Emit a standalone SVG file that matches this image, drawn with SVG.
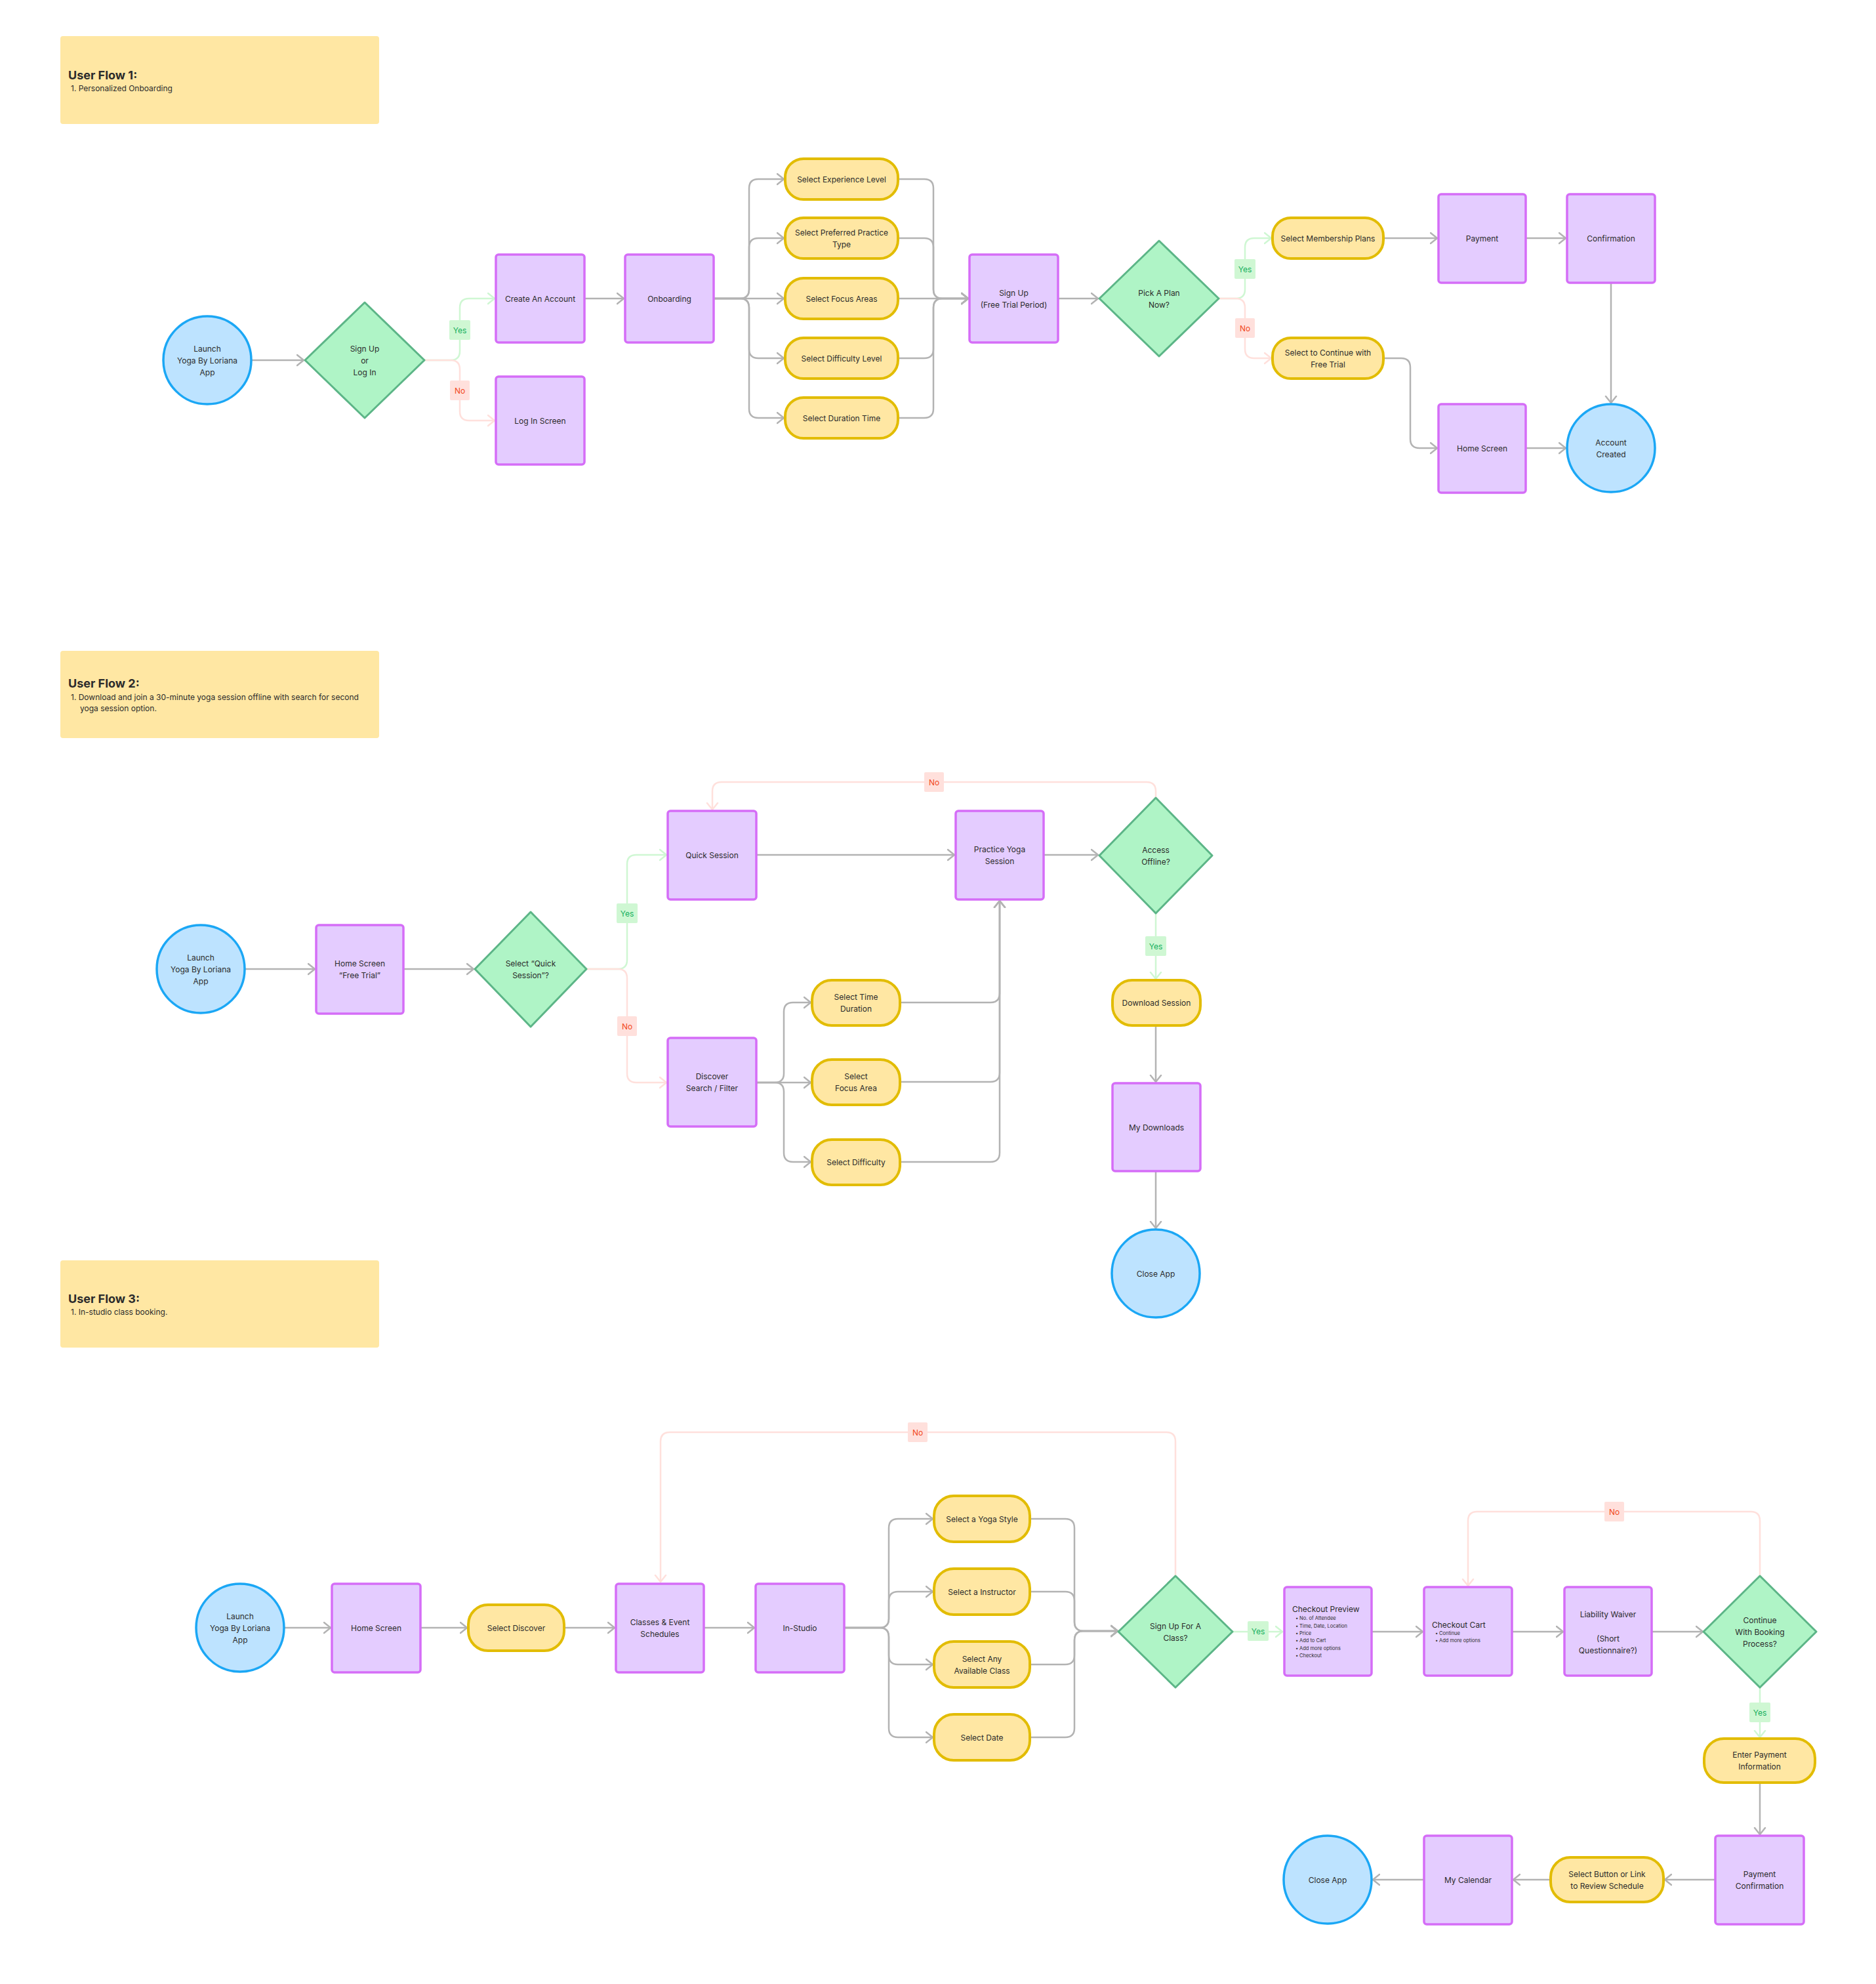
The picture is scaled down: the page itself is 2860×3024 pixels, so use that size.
<svg xmlns="http://www.w3.org/2000/svg" width="2860" height="3024" viewBox="0 0 2860 3024">
<defs>
<style>
.bg{fill:#ffffff}
.hdr{fill:#FFE7A3}
.ht{font-family:Inter,"Liberation Sans",sans-serif;font-size:18px;font-weight:700;fill:#2b2b2b}
.hs{font-family:Inter,"Liberation Sans",sans-serif;font-size:12px;fill:#2b2b2b}
.box{fill:#E4CCFF;stroke:#D56DF7;stroke-width:3.5}
.pill{fill:#FFE7A3;stroke:#E2BC00;stroke-width:4}
.dia{fill:#AFF4C6;stroke:#5CB587;stroke-width:3;stroke-linejoin:round}
.term{fill:#BDE3FF;stroke:#1BA7F5;stroke-width:3.5}
.t{font-family:Inter,"Liberation Sans",sans-serif;font-size:12px;fill:#2b2b2b;text-anchor:middle;dominant-baseline:central}
.tl{font-family:Inter,"Liberation Sans",sans-serif;font-size:12px;fill:#2b2b2b}
.tb{font-family:Inter,"Liberation Sans",sans-serif;font-size:7.5px;fill:#2b2b2b}
.c{fill:none;stroke:#B3B3B3;stroke-width:2.5;marker-end:url(#ag)}
.cy{fill:none;stroke:#CFF7D3;stroke-width:2.5;marker-end:url(#ay)}
.cn{fill:none;stroke:#FFE0DC;stroke-width:2.5;marker-end:url(#an)}
.ly{fill:#CFF7D3}
.ln{fill:#FFE0DC}
.lyt{font-family:Inter,"Liberation Sans",sans-serif;font-size:12px;fill:#14AE5C;text-anchor:middle;dominant-baseline:central}
.lnt{font-family:Inter,"Liberation Sans",sans-serif;font-size:12px;fill:#F24822;text-anchor:middle;dominant-baseline:central}
</style>
<marker id="ag" markerUnits="userSpaceOnUse" markerWidth="14" markerHeight="20" refX="11" refY="10" orient="auto"><path d="M1,2 L11,10 L1,18" fill="none" stroke="#B3B3B3" stroke-width="2.5" stroke-linecap="round" stroke-linejoin="round"/></marker>
<marker id="ay" markerUnits="userSpaceOnUse" markerWidth="14" markerHeight="20" refX="11" refY="10" orient="auto"><path d="M1,2 L11,10 L1,18" fill="none" stroke="#CFF7D3" stroke-width="2.5" stroke-linecap="round" stroke-linejoin="round"/></marker>
<marker id="an" markerUnits="userSpaceOnUse" markerWidth="14" markerHeight="20" refX="11" refY="10" orient="auto"><path d="M1,2 L11,10 L1,18" fill="none" stroke="#FFE0DC" stroke-width="2.5" stroke-linecap="round" stroke-linejoin="round"/></marker>
</defs>
<rect class="bg" x="0" y="0" width="2860" height="3024"/>

<!-- Headers -->
<g id="header1">
<rect class="hdr" x="92" y="55" width="486" height="134" rx="4"/>
<text class="ht" x="104" y="121">User Flow 1:</text>
<text class="hs" x="108" y="139">1. Personalized Onboarding</text>
</g>
<g id="header2">
<rect class="hdr" x="92" y="992" width="486" height="133" rx="4"/>
<text class="ht" x="104" y="1048">User Flow 2:</text>
<text class="hs" x="108" y="1067">1. Download and join a 30-minute yoga session offline with search for second</text>
<text class="hs" x="122" y="1084">yoga session option.</text>
</g>
<g id="header3">
<rect class="hdr" x="92" y="1921" width="486" height="133" rx="4"/>
<text class="ht" x="104" y="1986">User Flow 3:</text>
<text class="hs" x="108" y="2004">1. In-studio class booking.</text>
</g>

<!-- Connectors -->
<g id="connectors">
<!-- Flow 1 -->
<path class="c" d="M384,549 H463"/>
<path class="cy" d="M646,549 H687 Q701,549 701,535 V469 Q701,455 715,455 H754"/>
<path class="cn" d="M646,549 H687 Q701,549 701,563 V627 Q701,641 715,641 H754"/>
<path class="c" d="M891,455 H951"/>
<path class="c" d="M1088,455 H1128 Q1142,455 1142,441 V287 Q1142,273 1156,273 H1195"/>
<path class="c" d="M1088,455 H1128 Q1142,455 1142,441 V377 Q1142,363 1156,363 H1195"/>
<path class="c" d="M1088,455 H1195"/>
<path class="c" d="M1088,455 H1128 Q1142,455 1142,469 V532 Q1142,546 1156,546 H1195"/>
<path class="c" d="M1088,455 H1128 Q1142,455 1142,469 V623 Q1142,637 1156,637 H1195"/>
<path class="c" d="M1369,273 H1409 Q1423,273 1423,287 V441 Q1423,455 1437,455 H1476"/>
<path class="c" d="M1369,363 H1409 Q1423,363 1423,377 V441 Q1423,455 1437,455 H1476"/>
<path class="c" d="M1369,455 H1476"/>
<path class="c" d="M1369,546 H1409 Q1423,546 1423,532 V469 Q1423,455 1437,455 H1476"/>
<path class="c" d="M1369,637 H1409 Q1423,637 1423,623 V469 Q1423,455 1437,455 H1476"/>
<path class="c" d="M1613,455 H1674"/>
<path class="cy" d="M1858,455 H1884 Q1898,455 1898,441 V377 Q1898,363 1912,363 H1938"/>
<path class="cn" d="M1858,455 H1884 Q1898,455 1898,469 V532 Q1898,546 1912,546 H1938"/>
<path class="c" d="M2109,363 H2191"/>
<path class="c" d="M2326,363 H2387"/>
<path class="c" d="M2456,431 V614"/>
<path class="c" d="M2109,546 H2136 Q2150,546 2150,560 V669 Q2150,683 2164,683 H2191"/>
<path class="c" d="M2326,683 H2387"/>
<!-- Flow 2 -->
<path class="c" d="M373,1477 H480"/>
<path class="c" d="M615,1477 H722"/>
<path class="cy" d="M894,1477 H942 Q956,1477 956,1463 V1317 Q956,1303 970,1303 H1016"/>
<path class="cn" d="M894,1477 H942 Q956,1477 956,1491 V1636 Q956,1650 970,1650 H1016"/>
<path class="c" d="M1153,1303 H1455"/>
<path class="c" d="M1591,1303 H1674"/>
<path class="cn" d="M1762,1216 V1206 Q1762,1192 1748,1192 H1100 Q1086,1192 1086,1206 V1234"/>
<path class="cy" d="M1762,1392 V1492"/>
<path class="c" d="M1762,1563 V1649"/>
<path class="c" d="M1762,1785 V1872"/>
<path class="c" d="M1153,1650 H1181 Q1195,1650 1195,1636 V1542 Q1195,1528 1209,1528 H1236"/>
<path class="c" d="M1153,1650 H1236"/>
<path class="c" d="M1153,1650 H1181 Q1195,1650 1195,1664 V1757 Q1195,1771 1209,1771 H1236"/>
<path class="c" d="M1372,1528 H1510 Q1524,1528 1524,1514 V1373"/>
<path class="c" d="M1372,1649 H1510 Q1524,1649 1524,1635 V1373"/>
<path class="c" d="M1372,1771 H1510 Q1524,1771 1524,1757 V1373"/>
<!-- Flow 3 -->
<path class="c" d="M433,2481 H504"/>
<path class="c" d="M641,2481 H712"/>
<path class="c" d="M860,2481 H937"/>
<path class="c" d="M1073,2481 H1150"/>
<path class="c" d="M1287,2481 H1341 Q1355,2481 1355,2467 V2329 Q1355,2315 1369,2315 H1422"/>
<path class="c" d="M1287,2481 H1341 Q1355,2481 1355,2467 V2440 Q1355,2426 1369,2426 H1422"/>
<path class="c" d="M1287,2481 H1341 Q1355,2481 1355,2495 V2523 Q1355,2537 1369,2537 H1422"/>
<path class="c" d="M1287,2481 H1341 Q1355,2481 1355,2495 V2634 Q1355,2648 1369,2648 H1422"/>
<path class="c" d="M1570,2315 H1624 Q1638,2315 1638,2329 V2472 Q1638,2486 1652,2486 H1704"/>
<path class="c" d="M1570,2426 H1624 Q1638,2426 1638,2440 V2472 Q1638,2486 1652,2486 H1704"/>
<path class="c" d="M1570,2537 H1624 Q1638,2537 1638,2523 V2500 Q1638,2486 1652,2486 H1704"/>
<path class="c" d="M1570,2648 H1624 Q1638,2648 1638,2634 V2500 Q1638,2486 1652,2486 H1704"/>
<path class="cn" d="M1792,2402 V2197 Q1792,2183 1778,2183 H1021 Q1007,2183 1007,2197 V2411"/>
<path class="cy" d="M1879,2487 H1955"/>
<path class="c" d="M2091,2487 H2169"/>
<path class="c" d="M2305,2487 H2383"/>
<path class="c" d="M2518,2487 H2596"/>
<path class="cn" d="M2683,2402 V2318 Q2683,2304 2669,2304 H2252 Q2238,2304 2238,2318 V2417"/>
<path class="cy" d="M2683,2572 V2648"/>
<path class="c" d="M2683,2717 V2796"/>
<path class="c" d="M2615,2865 H2538"/>
<path class="c" d="M2364,2865 H2307"/>
<path class="c" d="M2171,2865 H2093"/>
</g>

<!-- Connector labels -->
<g id="labels">
<rect class="ly" x="685" y="488" width="32" height="30" rx="2"/><text class="lyt" x="701" y="503">Yes</text>
<rect class="ln" x="686" y="580" width="30" height="30" rx="2"/><text class="lnt" x="701" y="595">No</text>
<rect class="ly" x="1882" y="395" width="32" height="30" rx="2"/><text class="lyt" x="1898" y="410">Yes</text>
<rect class="ln" x="1883" y="485" width="30" height="30" rx="2"/><text class="lnt" x="1898" y="500">No</text>
<rect class="ly" x="940" y="1377" width="32" height="30" rx="2"/><text class="lyt" x="956" y="1392">Yes</text>
<rect class="ln" x="941" y="1549" width="30" height="30" rx="2"/><text class="lnt" x="956" y="1564">No</text>
<rect class="ln" x="1409" y="1177" width="30" height="30" rx="2"/><text class="lnt" x="1424" y="1192">No</text>
<rect class="ly" x="1746" y="1427" width="32" height="30" rx="2"/><text class="lyt" x="1762" y="1442">Yes</text>
<rect class="ln" x="1384" y="2168" width="30" height="30" rx="2"/><text class="lnt" x="1399" y="2183">No</text>
<rect class="ly" x="1902" y="2471" width="32" height="30" rx="2"/><text class="lyt" x="1918" y="2486">Yes</text>
<rect class="ln" x="2446" y="2289" width="30" height="30" rx="2"/><text class="lnt" x="2461" y="2304">No</text>
<rect class="ly" x="2667" y="2595" width="32" height="30" rx="2"/><text class="lyt" x="2683" y="2610">Yes</text>
</g>

<!-- Flow 1 nodes -->
<g id="f1-launch"><circle class="term" cx="316" cy="549" r="67"/><text class="t" x="316" y="531">Launch</text><text class="t" x="316" y="549">Yoga By Loriana</text><text class="t" x="316" y="567">App</text></g>
<g id="f1-signup-login"><polygon class="dia" points="556,461 647,549 556,637 465,549"/><text class="t" x="556" y="531">Sign Up</text><text class="t" x="556" y="549">or</text><text class="t" x="556" y="567">Log In</text></g>
<g id="f1-create"><rect class="box" x="756" y="388" width="135" height="134" rx="4"/><text class="t" x="823.5" y="455">Create An Account</text></g>
<g id="f1-login"><rect class="box" x="756" y="574" width="135" height="134" rx="4"/><text class="t" x="823.5" y="641">Log In Screen</text></g>
<g id="f1-onboarding"><rect class="box" x="953" y="388" width="135" height="134" rx="4"/><text class="t" x="1020.5" y="455">Onboarding</text></g>
<g id="f1-experience"><rect class="pill" x="1197" y="242" width="172" height="62" rx="28"/><text class="t" x="1283" y="273">Select Experience Level</text></g>
<g id="f1-practice-type"><rect class="pill" x="1197" y="332" width="172" height="62" rx="28"/><text class="t" x="1283" y="354">Select Preferred Practice</text><text class="t" x="1283" y="372">Type</text></g>
<g id="f1-focus"><rect class="pill" x="1197" y="424" width="172" height="62" rx="28"/><text class="t" x="1283" y="455">Select Focus Areas</text></g>
<g id="f1-difficulty"><rect class="pill" x="1197" y="515" width="172" height="62" rx="28"/><text class="t" x="1283" y="546">Select Difficulty Level</text></g>
<g id="f1-duration"><rect class="pill" x="1197" y="606" width="172" height="62" rx="28"/><text class="t" x="1283" y="637">Select Duration Time</text></g>
<g id="f1-signup"><rect class="box" x="1478" y="388" width="135" height="134" rx="4"/><text class="t" x="1545.5" y="446">Sign Up</text><text class="t" x="1545.5" y="464">(Free Trial Period)</text></g>
<g id="f1-pick-plan"><polygon class="dia" points="1767,367 1858,455 1767,543 1676,455"/><text class="t" x="1767" y="446">Pick A Plan</text><text class="t" x="1767" y="464">Now?</text></g>
<g id="f1-membership"><rect class="pill" x="1940" y="332" width="169" height="62" rx="28"/><text class="t" x="2024.5" y="363">Select Membership Plans</text></g>
<g id="f1-free-trial"><rect class="pill" x="1940" y="515" width="169" height="62" rx="28"/><text class="t" x="2024.5" y="537">Select to Continue with</text><text class="t" x="2024.5" y="555">Free Trial</text></g>
<g id="f1-payment"><rect class="box" x="2193" y="296" width="133" height="135" rx="4"/><text class="t" x="2259.5" y="363.5">Payment</text></g>
<g id="f1-confirmation"><rect class="box" x="2389" y="296" width="134" height="135" rx="4"/><text class="t" x="2456" y="363.5">Confirmation</text></g>
<g id="f1-home"><rect class="box" x="2193" y="616" width="133" height="135" rx="4"/><text class="t" x="2259.5" y="683.5">Home Screen</text></g>
<g id="f1-account-created"><circle class="term" cx="2456" cy="683" r="67"/><text class="t" x="2456" y="674">Account</text><text class="t" x="2456" y="692">Created</text></g>

<!-- Flow 2 nodes -->
<g id="f2-launch"><circle class="term" cx="306" cy="1477" r="67"/><text class="t" x="306" y="1459">Launch</text><text class="t" x="306" y="1477">Yoga By Loriana</text><text class="t" x="306" y="1495">App</text></g>
<g id="f2-home"><rect class="box" x="482" y="1410" width="133" height="135" rx="4"/><text class="t" x="548.5" y="1468.5">Home Screen</text><text class="t" x="548.5" y="1486.5">“Free Trial”</text></g>
<g id="f2-quick-decision"><polygon class="dia" points="809,1390 894,1477 809,1565 724,1477"/><text class="t" x="809" y="1468.5">Select “Quick</text><text class="t" x="809" y="1486.5">Session”?</text></g>
<g id="f2-quick"><rect class="box" x="1018" y="1236" width="135" height="135" rx="4"/><text class="t" x="1085.5" y="1303.5">Quick Session</text></g>
<g id="f2-discover"><rect class="box" x="1018" y="1582" width="135" height="135" rx="4"/><text class="t" x="1085.5" y="1640.5">Discover</text><text class="t" x="1085.5" y="1658.5">Search / Filter</text></g>
<g id="f2-practice"><rect class="box" x="1457" y="1236" width="134" height="135" rx="4"/><text class="t" x="1524" y="1294.5">Practice Yoga</text><text class="t" x="1524" y="1312.5">Session</text></g>
<g id="f2-access-offline"><polygon class="dia" points="1762,1216 1848,1304 1762,1392 1676,1304"/><text class="t" x="1762" y="1295">Access</text><text class="t" x="1762" y="1313">Offline?</text></g>
<g id="f2-download"><rect class="pill" x="1696" y="1494" width="134" height="69" rx="30"/><text class="t" x="1763" y="1528.5">Download Session</text></g>
<g id="f2-my-downloads"><rect class="box" x="1696" y="1651" width="134" height="134" rx="4"/><text class="t" x="1763" y="1718">My Downloads</text></g>
<g id="f2-close"><circle class="term" cx="1762" cy="1941" r="67"/><text class="t" x="1762" y="1941">Close App</text></g>
<g id="f2-time"><rect class="pill" x="1238" y="1494" width="134" height="69" rx="30"/><text class="t" x="1305" y="1519.5">Select Time</text><text class="t" x="1305" y="1537.5">Duration</text></g>
<g id="f2-focus"><rect class="pill" x="1238" y="1615" width="134" height="69" rx="30"/><text class="t" x="1305" y="1640.5">Select</text><text class="t" x="1305" y="1658.5">Focus Area</text></g>
<g id="f2-difficulty"><rect class="pill" x="1238" y="1737" width="134" height="69" rx="30"/><text class="t" x="1305" y="1771.5">Select Difficulty</text></g>

<!-- Flow 3 nodes -->
<g id="f3-launch"><circle class="term" cx="366" cy="2481" r="67"/><text class="t" x="366" y="2463">Launch</text><text class="t" x="366" y="2481">Yoga By Loriana</text><text class="t" x="366" y="2499">App</text></g>
<g id="f3-home"><rect class="box" x="506" y="2414" width="135" height="135" rx="4"/><text class="t" x="573.5" y="2481.5">Home Screen</text></g>
<g id="f3-discover"><rect class="pill" x="714" y="2446" width="146" height="70" rx="30"/><text class="t" x="787" y="2481">Select Discover</text></g>
<g id="f3-classes"><rect class="box" x="939" y="2414" width="134" height="135" rx="4"/><text class="t" x="1006" y="2472.5">Classes &amp; Event</text><text class="t" x="1006" y="2490.5">Schedules</text></g>
<g id="f3-instudio"><rect class="box" x="1152" y="2414" width="135" height="135" rx="4"/><text class="t" x="1219.5" y="2481.5">In-Studio</text></g>
<g id="f3-style"><rect class="pill" x="1424" y="2280" width="146" height="70" rx="30"/><text class="t" x="1497" y="2315">Select a Yoga Style</text></g>
<g id="f3-instructor"><rect class="pill" x="1424" y="2391" width="146" height="70" rx="30"/><text class="t" x="1497" y="2426">Select a Instructor</text></g>
<g id="f3-available"><rect class="pill" x="1424" y="2502" width="146" height="70" rx="30"/><text class="t" x="1497" y="2528">Select Any</text><text class="t" x="1497" y="2546">Available Class</text></g>
<g id="f3-date"><rect class="pill" x="1424" y="2613" width="146" height="70" rx="30"/><text class="t" x="1497" y="2648">Select Date</text></g>
<g id="f3-signup-class"><polygon class="dia" points="1792,2402 1879,2487 1792,2572 1705,2487"/><text class="t" x="1792" y="2478">Sign Up For A</text><text class="t" x="1792" y="2496">Class?</text></g>
<g id="f3-preview"><rect class="box" x="1958" y="2419" width="133" height="135" rx="4"/>
<text class="tl" x="1970" y="2457">Checkout Preview</text>
<text class="tb" x="1975" y="2469">•</text><text class="tb" x="1981" y="2469">No. of Attendee</text>
<text class="tb" x="1975" y="2481">•</text><text class="tb" x="1981" y="2481">Time, Date, Location</text>
<text class="tb" x="1975" y="2492">•</text><text class="tb" x="1981" y="2492">Price</text>
<text class="tb" x="1975" y="2503">•</text><text class="tb" x="1981" y="2503">Add to Cart</text>
<text class="tb" x="1975" y="2515">•</text><text class="tb" x="1981" y="2515">Add more options</text>
<text class="tb" x="1975" y="2526">•</text><text class="tb" x="1981" y="2526">Checkout</text>
</g>
<g id="f3-cart"><rect class="box" x="2171" y="2419" width="134" height="135" rx="4"/>
<text class="tl" x="2183" y="2481">Checkout Cart</text>
<text class="tb" x="2188" y="2492">•</text><text class="tb" x="2194" y="2492">Continue</text>
<text class="tb" x="2188" y="2503">•</text><text class="tb" x="2194" y="2503">Add more options</text>
</g>
<g id="f3-waiver"><rect class="box" x="2385" y="2419" width="133" height="135" rx="4"/><text class="t" x="2451.5" y="2460">Liability Waiver</text><text class="t" x="2451.5" y="2497">(Short</text><text class="t" x="2451.5" y="2515">Questionnaire?)</text></g>
<g id="f3-continue"><polygon class="dia" points="2683,2402 2769,2487 2683,2572 2597,2487"/><text class="t" x="2683" y="2469">Continue</text><text class="t" x="2683" y="2487">With Booking</text><text class="t" x="2683" y="2505">Process?</text></g>
<g id="f3-enter-payment"><rect class="pill" x="2598" y="2650" width="169" height="67" rx="30"/><text class="t" x="2682.5" y="2674.5">Enter Payment</text><text class="t" x="2682.5" y="2692.5">Information</text></g>
<g id="f3-payment-confirmation"><rect class="box" x="2615" y="2798" width="135" height="135" rx="4"/><text class="t" x="2682.5" y="2856.5">Payment</text><text class="t" x="2682.5" y="2874.5">Confirmation</text></g>
<g id="f3-review"><rect class="pill" x="2364" y="2831" width="172" height="68" rx="30"/><text class="t" x="2450" y="2856">Select Button or Link</text><text class="t" x="2450" y="2874">to Review Schedule</text></g>
<g id="f3-calendar"><rect class="box" x="2171" y="2798" width="134" height="135" rx="4"/><text class="t" x="2238" y="2865.5">My Calendar</text></g>
<g id="f3-close"><circle class="term" cx="2024" cy="2865" r="67"/><text class="t" x="2024" y="2865">Close App</text></g>
</svg>
